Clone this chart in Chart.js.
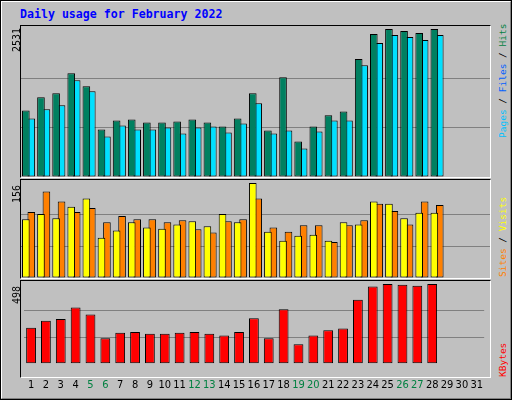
<!DOCTYPE html>
<html>
<head>
<meta charset="utf-8">
<script src="https://cdn.jsdelivr.net/npm/chart.js@4"></script>
<style>
  body { margin: 0; width: 512px; height: 400px; overflow: hidden; background: #fff; }
  #frame { position: absolute; left: 0; top: 0; width: 508px; height: 396px; background: #c0c0c0;
    border: 2px solid; border-color: #fff #808080 #808080 #fff; outline: 1px solid #000; outline-offset: -1px; }
  .panel { position: absolute; left: 20px; width: 471px; border-top: 1px solid #000; border-left: 1px solid #000;
    border-right: 1px solid #fff; border-bottom: 1px solid #fff; box-sizing: border-box; }
  .panel canvas { position: absolute; left: 0; top: 0; }
  #title { position: absolute; left: 20px; top: 7px; font: bold 11.6px "DejaVu Sans Mono", monospace; color: #0000ff; }
  .vl { position: absolute; font: 9.5px "DejaVu Sans Mono", monospace; transform-origin: left top; transform: rotate(-90deg); white-space: nowrap; }
  .num { font-size: 10px; }
</style>
</head>
<body>
<div id="frame"></div>
<div id="title">Daily usage for February 2022</div>

<div class="panel" style="top:25px;height:153px"><canvas id="c1"></canvas></div>
<div class="panel" style="top:179px;height:100px"><canvas id="c2"></canvas></div>
<div class="panel" style="top:280px;height:98px"></div>
<div style="position:absolute;left:21px;top:281px;width:469px;height:118px"><canvas id="c3"></canvas></div>

<div class="vl num" style="left:11px;top:52px;color:#000">2531</div>
<div class="vl num" style="left:11px;top:203px;color:#000">156</div>
<div class="vl num" style="left:11px;top:304px;color:#000">498</div>

<div class="vl" style="left:497px;top:138px"><span style="color:#00c0ff">Pages</span><span style="color:#000"> / </span><span style="color:#0060ff">Files</span><span style="color:#000"> / </span><span style="color:#008040">Hits</span></div>
<div class="vl" style="left:497px;top:277px"><span style="color:#ff8000">Sites</span><span style="color:#000"> / </span><span style="color:#ffff00">Visits</span></div>
<div class="vl" style="left:497px;top:377px;color:#ff0000">KBytes</div>

<script>
// Tage 1..31
const days = Array.from({ length: 31 }, (_, i) => String(i + 1));
const weekend = ['5', '6', '12', '13', '19', '20', '26', '27'];

const hits = [1139, 1363, 1431, 1775, 1552, 813, 968, 985, 933, 933, 950, 985, 933, 865, 1002, 1431, 796, 1706, 607, 865, 1054, 1122, 2016, 2445, 2531, 2497, 2462, 2531];
const pages = [1002, 1157, 1225, 1655, 1466, 693, 882, 813, 813, 847, 744, 847, 865, 762, 916, 1260, 744, 796, 487, 779, 968, 968, 1912, 2290, 2428, 2393, 2342, 2428];
const visits = [96.6, 105, 98, 117, 130.5, 66, 78, 91.6, 83, 81, 88, 93, 85, 105, 91.6, 156, 76, 61, 69.5, 71, 61, 91.6, 88, 125.5, 122, 98, 107, 107];
const sites = [108.5, 142, 125.5, 108.5, 115, 91.6, 102, 96.6, 96.6, 91.6, 95, 80, 74.6, 93, 96.6, 130.5, 83, 76, 86.5, 86.5, 59, 86.5, 95, 122, 110, 88, 125.5, 120];
const kbytes = [225, 269, 280, 351, 307, 160, 193, 198, 187, 187, 193, 198, 187, 176, 198, 285, 160, 340, 122, 176, 209, 220, 400, 482, 498, 493, 487, 498];

const maxHits = 2531, maxVisits = 156, maxKb = 498;

const makeChart = (id, w, h, datasets, max, showX) => {
    const cv = document.getElementById(id);
    cv.width = w; cv.height = h;
    cv.style.width = w + 'px'; cv.style.height = h + 'px';
    return new Chart(cv, {
        type: 'bar',
        data: { labels: days, datasets },
        options: {
            responsive: false,
            animation: false,
            layout: { padding: { top: 3, bottom: 0, left: 0, right: 0 } },
            plugins: { legend: { display: false }, tooltip: { enabled: false } },
            scales: {
                x: {
                    display: showX,
                    grid: { display: false },
                    border: { display: false },
                    ticks: {
                        autoSkip: false, maxRotation: 0, padding: 7,
                        font: { family: 'DejaVu Sans Condensed', size: 11 },
                        color: c => weekend.includes(days[c.index]) ? '#008040' : '#000'
                    }
                },
                y: {
                    min: 0, max,
                    afterFit: s => { s.width = 0; },
                    ticks: { display: false, stepSize: max / 3 },
                    border: { display: false },
                    grid: { color: c => (c.tick.value > 0 && c.tick.value < max) ? '#808080' : 'rgba(0,0,0,0)', lineWidth: 1, drawTicks: false }
                }
            }
        }
    });
};

const barStyle = (data, color, catPct, barPct) => ({
    data, backgroundColor: color, borderColor: '#000', borderWidth: 1, borderSkipped: false,
    categoryPercentage: catPct, barPercentage: barPct
});

makeChart('c1', 469, 151, [
    barStyle(hits, '#008060', 0.72, 1.4),
    barStyle(pages, '#00e0ff', 0.72, 1.4)
], maxHits, false);

makeChart('c2', 469, 98, [
    barStyle(visits, '#ffff00', 0.72, 1.4),
    barStyle(sites, '#ff8000', 0.72, 1.4)
], maxVisits, false);

makeChart('c3', 469, 118, [
    barStyle(kbytes, '#ff0000', 0.66, 1.0)
], maxKb, true);
</script>
</body>
</html>
